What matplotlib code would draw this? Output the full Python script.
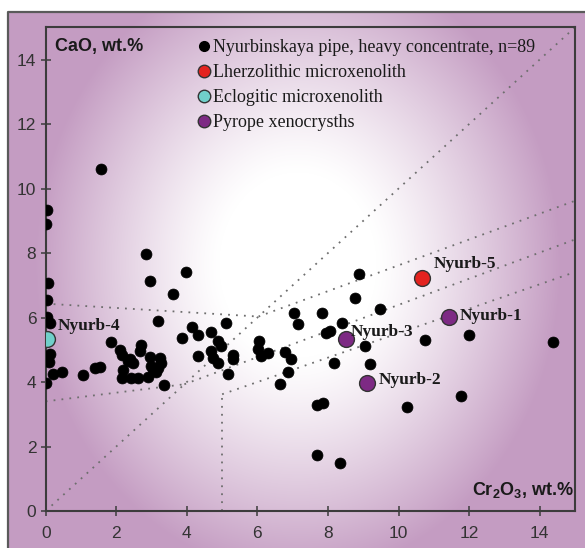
import numpy as np
import matplotlib
matplotlib.use('Agg')
import matplotlib.pyplot as plt
from matplotlib.lines import Line2D
from matplotlib.colors import to_rgb

plt.rcParams['mathtext.fontset'] = 'custom'
plt.rcParams['mathtext.rm'] = 'Liberation Sans'
plt.rcParams['mathtext.bf'] = 'Liberation Sans:bold'

# ---- data: heavy concentrate garnets (Cr2O3, CaO wt.%) ----
conc_cr2o3 = [0.03, 0.01, 0.07, 0.04, 0.03, 0.12, 0.12, 0.09, 0.00, 0.21, 0.45, 1.06,
              1.39, 1.53, 1.58, 1.86, 2.10, 2.15, 2.18, 2.17, 2.33, 2.38, 2.47, 2.43,
              2.62, 2.71, 2.66, 2.85, 2.95, 2.95, 2.99, 2.90, 3.23, 3.28, 3.18, 3.12,
              3.04, 3.36, 3.19, 3.60, 3.98, 3.85, 4.15, 4.31, 4.33, 4.69, 4.88, 4.97,
              4.69, 4.73, 4.88, 5.11, 5.30, 5.30, 5.16, 6.05, 6.01, 6.10, 6.29, 6.77,
              6.95, 6.86, 6.63, 7.03, 7.14, 7.84, 8.41, 7.94, 8.07, 8.17, 8.88, 8.77,
              9.47, 9.05, 9.19, 10.74, 12.01, 14.37, 11.78, 7.70, 7.87, 10.24, 7.68, 8.33]
conc_cao = [9.34, 8.90, 7.08, 6.55, 6.03, 5.83, 4.88, 4.62, 3.97, 4.25, 4.30, 4.21,
            4.42, 4.48, 10.60, 5.24, 4.98, 4.85, 4.37, 4.11, 4.64, 4.70, 4.59, 4.13,
            4.13, 5.16, 4.95, 7.96, 7.13, 4.77, 4.49, 4.17, 4.73, 4.59, 4.44, 4.32,
            4.39, 3.90, 5.89, 6.73, 7.42, 5.38, 5.71, 5.47, 4.82, 5.56, 5.28, 5.11,
            4.95, 4.75, 4.59, 5.82, 4.85, 4.70, 4.26, 5.27, 5.01, 4.80, 4.91, 4.92,
            4.72, 4.30, 3.95, 6.13, 5.79, 6.13, 5.82, 5.52, 5.58, 4.59, 7.34, 6.59,
            6.25, 5.13, 4.56, 5.30, 5.47, 5.25, 3.57, 3.30, 3.34, 3.22, 1.75, 1.50]

sample_names = ['Nyurb-4', 'Nyurb-5', 'Nyurb-1', 'Nyurb-3', 'Nyurb-2']
sample_cr2o3 = [0.05, 10.67, 11.42, 8.50, 9.11]
sample_cao = [5.33, 7.22, 6.02, 5.34, 3.97]
sample_kind = ['eclogitic', 'lherzolithic', 'pyrope', 'pyrope', 'pyrope']
label_offsets = [(10, 13), (11, 14), (11, 1), (5, 7), (12, 3)]   # pixels

kind_colors = {'lherzolithic': '#e3231f', 'eclogitic': '#70cfca', 'pyrope': '#7d2a84'}
legend_labels = ['Nyurbinskaya pipe, heavy concentrate, n=89', 'Lherzolithic microxenolith',
                 'Eclogitic microxenolith', 'Pyrope xenocrysths']

# field boundary lines (Cr2O3, CaO) end points
boundary_x = [[0, 15], [0, 6.03], [6.03, 15], [0, 3.93], [3.93, 15], [5, 5], [5, 15]]
boundary_y = [[0, 15], [6.43, 6.03], [6.03, 9.62], [3.40, 3.93], [3.93, 8.42], [0, 3.62], [3.62, 7.41]]

x_ticks = [0, 2, 4, 6, 8, 10, 12, 14]
y_ticks = [0, 2, 4, 6, 8, 10, 12, 14]

# ---- figure ----
W, H = 585, 548
fig = plt.figure(figsize=(W / 100, H / 100), dpi=100)
fig.patch.set_facecolor('white')

# background gradient panel
bg = fig.add_axes([0, 0, 1, 1], zorder=0)
bg.set_axis_off()
yy, xx = np.mgrid[0:H, 0:W] + 0.5
cx, cy = 298, 265
r = np.sqrt(((xx - cx) / 280.0) ** 2 + ((yy - cy) / 330.0) ** 2)
t = np.clip((r - 0.28) / 0.66, 0, 1) ** 1.2
purple = np.array(to_rgb('#c49cc2'))
white = np.array([1.0, 1.0, 1.0])
img = white[None, None, :] * (1 - t[..., None]) + purple[None, None, :] * t[..., None]
outside = (xx < 8) | (yy < 12)
img[outside] = 1.0
bg.imshow(img, extent=[0, W, H, 0], aspect='auto', interpolation='bilinear')
bg.set_xlim(0, W)
bg.set_ylim(H, 0)
bg.plot([8, 8, W + 5], [H + 5, 12, 12], color='#5a5a5a', lw=1.6, solid_capstyle='projecting')

# main axes
ax = fig.add_axes([45.7 / W, (H - 511) / H, (575 - 45.7) / W, (511 - 27.3) / H], zorder=1)
ax.set_facecolor('none')
ax.set_xlim(0, 15)
ax.set_ylim(0, 15)

for bx, by in zip(boundary_x, boundary_y):
    ax.plot(bx, by, color='#6e6e6e', lw=1.3, linestyle=(0, (1, 3.4)), zorder=2)

ax.scatter(conc_cr2o3, conc_cao, s=62, color='black', edgecolors='black', linewidths=0.5, zorder=3)
for name, xv, yv, kind, off in zip(sample_names, sample_cr2o3, sample_cao, sample_kind, label_offsets):
    ax.scatter([xv], [yv], s=130, color=kind_colors[kind], edgecolors='#333333', linewidths=1.0, zorder=4)
    ax.annotate(name, (xv, yv), xytext=off, textcoords='offset pixels', ha='left', va='center',
                fontsize=12.5, fontweight='bold', family='Liberation Serif', color='#1a1a1a', zorder=5)

for side in ['left', 'bottom', 'right', 'top']:
    ax.spines[side].set_color('#3c3c3c')
    ax.spines[side].set_linewidth(1.5)
ax.set_xticks(x_ticks)
ax.set_yticks(y_ticks)
ax.tick_params(direction='inout', length=7.5, width=1.1, color='#3c3c3c', labelcolor='#333333',
               labelsize=12.5)
ax.tick_params(axis='x', pad=7)
ax.tick_params(axis='y', pad=3)
for lab in ax.get_xticklabels() + ax.get_yticklabels():
    lab.set_family('Liberation Sans')

fig.text(55 / W, 1 - 47 / H, 'CaO, wt.%', fontsize=13, fontweight='bold', family='Liberation Sans',
         color='#1a1a1a', ha='left', va='center')
fig.text(574 / W, 1 - 490 / H, r'Cr$_\mathbf{2}$O$_\mathbf{3}$, wt.%', fontsize=13, fontweight='bold',
         family='Liberation Sans', color='#1a1a1a', ha='right', va='center')

handles = [Line2D([], [], ls='none', marker='o', ms=7, mfc='black', mec='black'),
           Line2D([], [], ls='none', marker='o', ms=9, mfc=kind_colors['lherzolithic'], mec='#333333'),
           Line2D([], [], ls='none', marker='o', ms=9, mfc=kind_colors['eclogitic'], mec='#333333'),
           Line2D([], [], ls='none', marker='o', ms=9, mfc=kind_colors['pyrope'], mec='#333333')]
leg = ax.legend(handles, legend_labels, loc='upper left',
                bbox_to_anchor=((199 - 45.7) / (575 - 45.7), 1 - (39 - 27.3) / (511 - 27.3)),
                frameon=False, handlelength=0.6, handletextpad=0.2, labelspacing=0.45,
                borderaxespad=0, borderpad=0, prop={'family': 'Liberation Serif', 'size': 13})
for txt in leg.get_texts():
    txt.set_color('#1a1a1a')

fig.savefig('out.png', dpi=100)
